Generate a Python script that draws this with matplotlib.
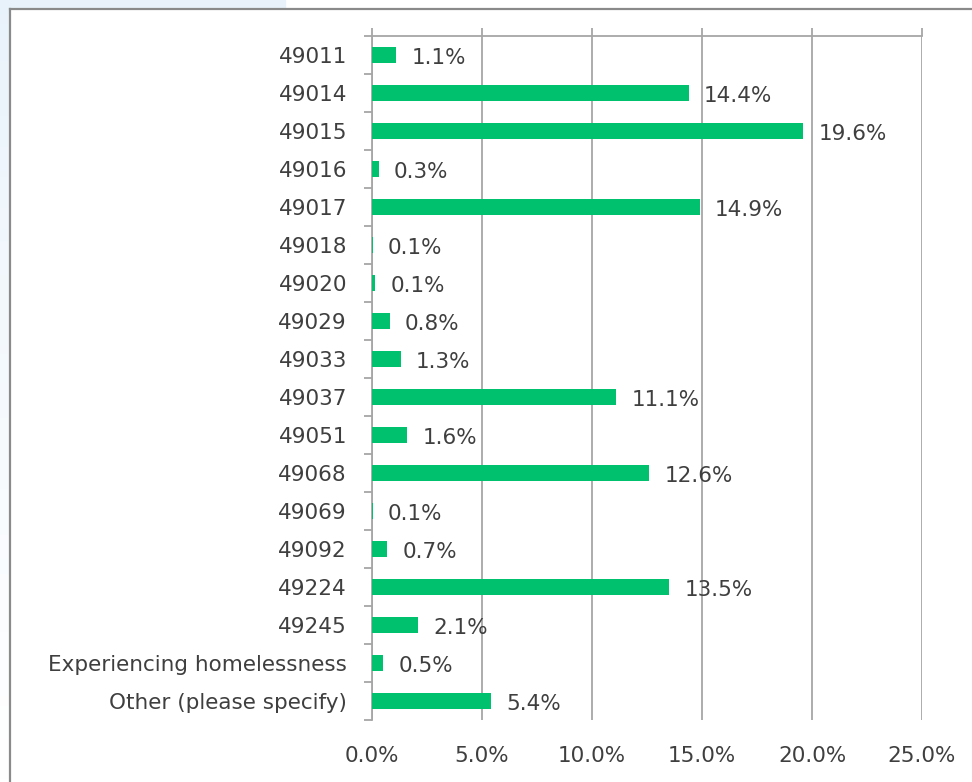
import numpy as np
import matplotlib.pyplot as plt
from matplotlib.lines import Line2D
from matplotlib.patches import Rectangle
from matplotlib.ticker import FixedLocator

# data
categories = ['49011', '49014', '49015', '49016', '49017', '49018', '49020',
              '49029', '49033', '49037', '49051', '49068', '49069', '49092',
              '49224', '49245', 'Experiencing homelessness', 'Other (please specify)']
shares = [1.1, 14.4, 19.6, 0.3, 14.9, 0.03, 0.14, 0.8, 1.3, 11.1, 1.6, 12.6,
          0.03, 0.7, 13.5, 2.1, 0.5, 5.4]
share_labels = ['1.1%', '14.4%', '19.6%', '0.3%', '14.9%', '0.1%', '0.1%', '0.8%',
                '1.3%', '11.1%', '1.6%', '12.6%', '0.1%', '0.7%', '13.5%', '2.1%',
                '0.5%', '5.4%']
x_ticks = [0, 5, 10, 15, 20, 25]

W, H = 972, 782
fig = plt.figure(figsize=(W / 100, H / 100), dpi=100)
fig.patch.set_facecolor('white')

# light blue page background around the chart frame (fades down the left edge)
bg = fig.add_axes([0, 0, 9 / W, 1], zorder=-5)
grad = np.linspace(0, 1, 256).reshape(-1, 1)
top_c = np.array([0.91, 0.95, 0.985])
bot_c = np.array([1.0, 1.0, 1.0])
img = top_c + (bot_c - top_c) * grad[..., None] ** 0.8
bg.imshow(img, aspect='auto', extent=[0, 1, 0, 1])
bg.axis('off')
fig.patches.append(Rectangle((0, 1 - 8 / H), 285 / W, 8 / H, transform=fig.transFigure,
                             color='#e9f2fb', zorder=-6))

# chart frame (left and top edges visible)
frame_c = '#8a8a8a'
fig.lines.append(Line2D([9.5 / W, 9.5 / W], [0, 1 - 8.5 / H], transform=fig.transFigure,
                        color=frame_c, lw=1.6))
fig.lines.append(Line2D([9.5 / W, 1], [1 - 8.5 / H, 1 - 8.5 / H], transform=fig.transFigure,
                        color=frame_c, lw=1.6))

ax = fig.add_axes([372 / W, 1 - 720 / H, 550 / W, 684 / H])
y = np.arange(len(categories))
ax.barh(y, shares, height=0.42, color='#00c16e', zorder=3)

ax.set_xlim(0, 25)
ax.set_ylim(len(categories) - 0.5, -0.5)

fs = 15.5
txt_c = '#3f3f3f'
grid_c = '#a6a6a6'
ax.set_xticks(x_ticks)
ax.set_xticklabels(['{:.1f}%'.format(v) for v in x_ticks])
ax.xaxis.grid(True, color=grid_c, lw=1.3, zorder=1)
ax.tick_params(axis='x', bottom=False, labelbottom=True, top=True, labeltop=False,
               direction='out', length=6, width=1.3, color=grid_c, pad=13,
               labelsize=fs, labelcolor=txt_c)

ax.set_yticks(y)
ax.set_yticklabels(categories)
ax.yaxis.set_minor_locator(FixedLocator(np.arange(-0.5, len(categories), 1)))
ax.tick_params(axis='y', which='major', length=0, pad=18, labelsize=fs, labelcolor=txt_c)
ax.tick_params(axis='y', which='minor', length=6, width=1.3, color=grid_c, direction='out')

for side in ['right', 'bottom']:
    ax.spines[side].set_visible(False)
for side in ['left', 'top']:
    ax.spines[side].set_color(grid_c)
    ax.spines[side].set_linewidth(1.3)

for yi, v, lab in zip(y, shares, share_labels):
    ax.annotate(lab, (v, yi), xytext=(11, -2), textcoords='offset points',
                va='center', ha='left', fontsize=fs, color=txt_c, zorder=4)

fig.savefig('out.png', dpi=100)
